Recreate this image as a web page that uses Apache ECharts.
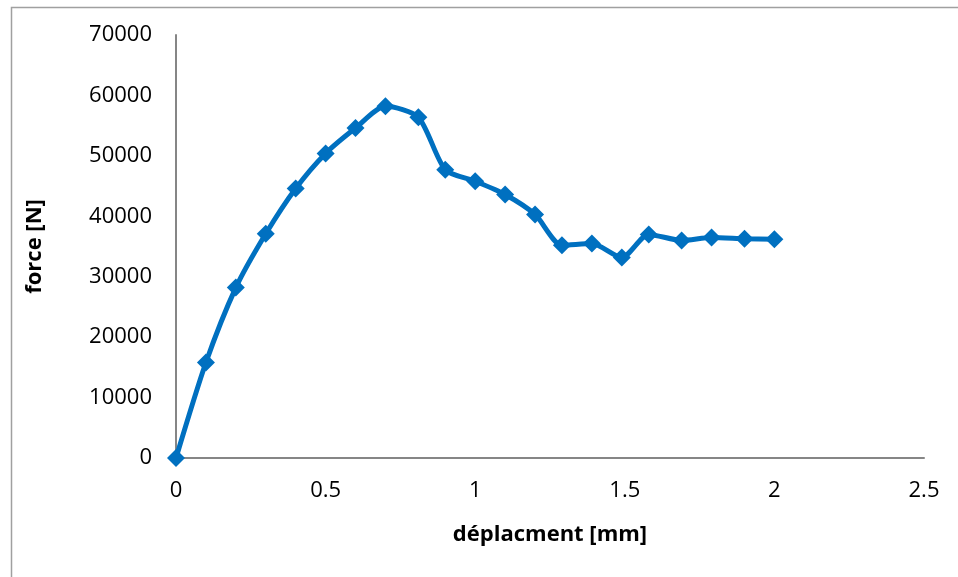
<!DOCTYPE html>
<html>
<head>
<meta charset="utf-8">
<script src="https://cdn.jsdelivr.net/npm/echarts@6/dist/echarts.min.js"></script>
<style>
  html, body { margin: 0; padding: 0; background: #fff; }
  #chart { width: 958px; height: 577px; }
</style>
</head>
<body>
<div id="chart"></div>
<script>
// déplacement [mm] et force [N]
const deplacement = [0, 0.1, 0.2, 0.3, 0.4, 0.5, 0.6, 0.7, 0.81, 0.9, 1.0, 1.1, 1.2, 1.29, 1.39, 1.49, 1.58, 1.69, 1.79, 1.9, 2.0]
const force = [0, 15800, 28200, 37100, 44600, 50400, 54600, 58200, 56400, 47700, 45800, 43600, 40300, 35200, 35500, 33200, 37000, 36000, 36500, 36300, 36200]

const xTitle = 'déplacment [mm]'
const yTitle = 'force [N]'

const points = deplacement.map((x, i) => [x, force[i]])

const font = 'Open Sans, Noto Sans, sans-serif'
const axisColor = '#868686'

const options = {
  animation: false,
  backgroundColor: '#fff',
  graphic: [
    {
      type: 'rect',
      left: 9,
      top: 5,
      shape: { width: 1000, height: 700 },
      style: { fill: 'none', stroke: '#a0a0a0', lineWidth: 1.5 },
      silent: true
    }
  ],
  grid: {
    left: 176,
    right: 34,
    top: 35,
    bottom: 119
  },
  xAxis: {
    type: 'value',
    min: 0,
    max: 2.5,
    interval: 0.5,
    name: xTitle,
    nameLocation: 'middle',
    nameGap: 66,
    nameTextStyle: { fontFamily: font, fontSize: 22, fontWeight: 'bold', color: '#000' },
    axisLine: { show: true, lineStyle: { color: axisColor, width: 2 } },
    axisTick: { show: false },
    splitLine: { show: false },
    axisLabel: { fontFamily: font, fontSize: 22, color: '#000', margin: 22 }
  },
  yAxis: {
    type: 'value',
    min: 0,
    max: 70000,
    interval: 10000,
    name: yTitle,
    nameLocation: 'middle',
    nameGap: 130,
    nameRotate: 90,
    nameTextStyle: { fontFamily: font, fontSize: 22, fontWeight: 'bold', color: '#000' },
    axisLine: { show: true, lineStyle: { color: axisColor, width: 2 } },
    axisTick: { show: false },
    splitLine: { show: false },
    axisLabel: { fontFamily: font, fontSize: 22, color: '#000', margin: 24, formatter: v => String(v) }
  },
  series: [
    {
      type: 'line',
      data: points,
      smooth: 0.25,
      symbol: 'diamond',
      symbolSize: 18,
      itemStyle: { color: '#0070C0' },
      lineStyle: { color: '#0070C0', width: 5 }
    }
  ]
}

const mychart = echarts.init(document.getElementById('chart'))
mychart.setOption(options)
</script>
</body>
</html>
